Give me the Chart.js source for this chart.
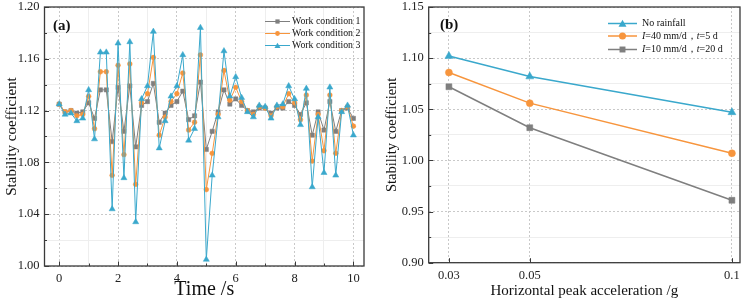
<!DOCTYPE html>
<html>
<head>
<meta charset="utf-8">
<script src="https://cdn.jsdelivr.net/npm/chart.js@4.4.0/dist/chart.umd.min.js"></script>
<style>
  body { margin: 0; background: #fff; }
  .panel { position: absolute; top: 0; width: 377px; height: 300px; }
</style>
</head>
<body>
<div class="panel" style="left:0"><canvas id="chartA" width="377" height="300"></canvas></div>
<div class="panel" style="left:377px"><canvas id="chartB" width="377" height="300"></canvas></div>
<script>
// ---------------- data (a) ----------------
const time = [0, 0.2, 0.4, 0.6, 0.8, 1, 1.2, 1.4, 1.6, 1.8, 2, 2.2, 2.4, 2.6, 2.8, 3, 3.2, 3.4, 3.6, 3.8,
  4, 4.2, 4.4, 4.6, 4.8, 5, 5.2, 5.4, 5.6, 5.8, 6, 6.2, 6.4, 6.6, 6.8, 7, 7.2, 7.4, 7.6, 7.8,
  8, 8.2, 8.4, 8.6, 8.8, 9, 9.2, 9.4, 9.6, 9.8, 10];
const wc1 = [1.125, 1.119, 1.120, 1.118, 1.119, 1.126, 1.114, 1.136, 1.136, 1.096, 1.138, 1.104, 1.139, 1.092, 1.124, 1.127, 1.141, 1.111, 1.118, 1.124,
  1.127, 1.135, 1.113, 1.116, 1.142, 1.090, 1.104, 1.119, 1.136, 1.125, 1.129, 1.124, 1.120, 1.119, 1.122, 1.122, 1.118, 1.122, 1.122, 1.127,
  1.124, 1.117, 1.126, 1.101, 1.119, 1.105, 1.127, 1.104, 1.120, 1.122, 1.114];
const wc2 = [1.125, 1.119, 1.120, 1.116, 1.117, 1.131, 1.106, 1.150, 1.150, 1.070, 1.155, 1.086, 1.156, 1.063, 1.126, 1.133, 1.161, 1.101, 1.115, 1.127,
  1.133, 1.149, 1.105, 1.111, 1.163, 1.059, 1.087, 1.117, 1.151, 1.128, 1.138, 1.127, 1.120, 1.117, 1.123, 1.122, 1.116, 1.123, 1.123, 1.133,
  1.126, 1.113, 1.132, 1.081, 1.117, 1.089, 1.132, 1.087, 1.120, 1.123, 1.108];
const wc3 = [1.125, 1.117, 1.118, 1.112, 1.114, 1.136, 1.098, 1.165, 1.165, 1.044, 1.172, 1.068, 1.173, 1.034, 1.129, 1.139, 1.181, 1.091, 1.112, 1.131,
  1.139, 1.163, 1.097, 1.106, 1.184, 1.005, 1.070, 1.115, 1.166, 1.131, 1.146, 1.130, 1.119, 1.115, 1.124, 1.123, 1.114, 1.124, 1.125, 1.139,
  1.129, 1.109, 1.137, 1.061, 1.115, 1.072, 1.138, 1.070, 1.119, 1.124, 1.101];
const timeTicks = [0, 2, 4, 6, 8, 10];
const stabTicksA = [1.00, 1.04, 1.08, 1.12, 1.16, 1.20];
const namesA = ['Work condition 1', 'Work condition 2', 'Work condition 3'];

// ---------------- data (b) ----------------
const accel = [0.03, 0.05, 0.1];
const noRain = [1.102, 1.082, 1.047];
const rain40 = [1.086, 1.056, 1.007];
const rain10 = [1.072, 1.032, 0.961];
const accelTicks = [0.03, 0.05, 0.1];
const stabTicksB = [0.90, 0.95, 1.00, 1.05, 1.10, 1.15];
const namesB = ['No rainfall', 'I=40 mm/d，t=5 d', 'I=10 mm/d，t=20 d'];

const GRAY = '#7f7f7f', ORANGE = '#f7953d', CYAN = '#3aa8cc';
const SERIF = "'Liberation Serif', 'Times New Roman', serif";

// ticks with a minor tick between each major one
function makeTicks(majors, minors) {
  const out = [];
  for (let i = 0; i < majors.length; i++) {
    out.push({ value: majors[i], big: true });
    if (minors && i < majors.length - 1) out.push({ value: (majors[i] + majors[i + 1]) / 2, big: false });
  }
  return out;
}

function pts(xs, ys) { return xs.map((x, i) => ({ x: x, y: ys[i] })); }

function drawMarker(ctx, style, r, x, y) {
  ctx.beginPath();
  if (style === 'rect') {
    const s = r * Math.SQRT1_2;
    ctx.rect(x - s, y - s, 2 * s, 2 * s);
  } else if (style === 'triangle') {
    for (let k = 0; k < 3; k++) {
      const a = k * 2 * Math.PI / 3;
      const px = x + Math.sin(a) * r, py = y - Math.cos(a) * r + r * 0.2;
      if (k === 0) ctx.moveTo(px, py); else ctx.lineTo(px, py);
    }
    ctx.closePath();
  } else {
    ctx.arc(x, y, r, 0, Math.PI * 2);
  }
  ctx.fill();
}

// frame around plot + inward tick marks + panel letter
const framePlugin = {
  id: 'frame',
  afterDraw(chart, args, o) {
    const { ctx, chartArea: a, scales } = chart;
    ctx.save();
    ctx.strokeStyle = '#3a3a3a';
    ctx.lineWidth = 1.3;
    ctx.strokeRect(a.left, a.top, a.right - a.left, a.bottom - a.top);
    ctx.lineWidth = 1;
    ctx.beginPath();
    scales.x.ticks.forEach(t => {
      const px = Math.round(scales.x.getPixelForValue(t.value)) + 0.5;
      ctx.moveTo(px, a.bottom);
      ctx.lineTo(px, a.bottom - (t.big ? 4.5 : 2.5));
    });
    scales.y.ticks.forEach(t => {
      const py = Math.round(scales.y.getPixelForValue(t.value)) + 0.5;
      ctx.moveTo(a.left, py);
      ctx.lineTo(a.left + (t.big ? 4.5 : 2.5), py);
    });
    ctx.stroke();
    ctx.fillStyle = '#111';
    ctx.font = 'bold 15px ' + SERIF;
    ctx.textBaseline = 'middle';
    ctx.fillText(o.letter, o.lx, o.ly);
    ctx.restore();
  }
};

// legend with line + marker, italics for I and t
const keyPlugin = {
  id: 'lineKey',
  afterDraw(chart, args, o) {
    const ctx = chart.ctx;
    ctx.save();
    ctx.textBaseline = 'middle';
    chart.data.datasets.forEach((ds, i) => {
      const y = o.rows[i];
      ctx.strokeStyle = ds.borderColor;
      ctx.lineWidth = ds.borderWidth;
      ctx.beginPath();
      ctx.moveTo(o.x0, y);
      ctx.lineTo(o.x1, y);
      ctx.stroke();
      ctx.fillStyle = ds.pointBackgroundColor;
      drawMarker(ctx, ds.pointStyle, ds.pointRadius, (o.x0 + o.x1) / 2, y);
      ctx.fillStyle = '#111';
      let x = o.tx;
      ds.label.split(/([It](?==))/).forEach(part => {
        if (!part) return;
        const it = /^[It]$/.test(part);
        ctx.font = (it ? 'italic ' : '') + o.size + 'px ' + SERIF;
        ctx.fillText(part, x, y);
        x += ctx.measureText(part).width;
      });
    });
    ctx.restore();
  }
};

function axis(opts) {
  return {
    type: 'linear',
    min: opts.min,
    max: opts.max,
    afterBuildTicks: s => { s.ticks = makeTicks(opts.majors, opts.minor); },
    afterFit: s => {
      if (opts.w) s.width = opts.w;
      if (opts.h) s.height = opts.h;
      s.paddingTop = 0; s.paddingBottom = 0; s.paddingLeft = 0; s.paddingRight = 0;
    },
    ticks: {
      autoSkip: false, maxRotation: 0, padding: opts.pad, color: '#222',
      font: { family: SERIF, size: 12.5 },
      callback: (v, i, ts) => ts[i].big ? opts.fmt(v) : ''
    },
    grid: {
      drawTicks: false, lineWidth: 1,
      color: c => (c.tick && c.tick.big) ? '#c9c9c9' : '#eeeeee'
    },
    border: { display: false, dash: c => (c.tick && c.tick.big) ? [2, 2] : [] },
    title: {
      display: true, text: opts.title, color: '#111',
      font: { family: SERIF, size: opts.tsize, lineHeight: opts.lh },
      padding: opts.tpad
    }
  };
}

function series(label, xs, ys, color, style, r, bw, order) {
  return {
    label: label, data: pts(xs, ys), borderColor: color, backgroundColor: color,
    pointBackgroundColor: color, pointBorderColor: color, pointBorderWidth: 0.5,
    pointStyle: style, pointRadius: r, borderWidth: bw, tension: 0, order: order
  };
}

new Chart(document.getElementById('chartA'), {
  type: 'line',
  data: {
    datasets: [
      series(namesA[0], time, wc1, GRAY, 'rect', 3, 1, 3),
      series(namesA[1], time, wc2, ORANGE, 'circle', 2.4, 1, 2),
      series(namesA[2], time, wc3, CYAN, 'triangle', 3.5, 1, 1)
    ]
  },
  options: {
    responsive: false, animation: false,
    layout: { padding: { left: 0, top: 7, right: 13, bottom: 0 } },
    plugins: {
      legend: { display: false }, tooltip: { enabled: false },
      frame: { letter: '(a)', lx: 53, ly: 26 },
      lineKey: { x0: 265, x1: 290, tx: 292, rows: [21.5, 33.5, 45.5], size: 9.8 }
    },
    scales: {
      x: axis({ min: -0.5, max: 10.36, majors: timeTicks, minor: true, pad: 5, h: 34,
        fmt: v => String(v), title: 'Time /s', tsize: 20, lh: 1, tpad: { top: 0, bottom: 0 } }),
      y: axis({ min: 1.0, max: 1.2, majors: stabTicksA, minor: true, pad: 5, w: 44.5,
        fmt: v => v.toFixed(2), title: 'Stability coefficient', tsize: 15, lh: 1.2, tpad: { top: 3, bottom: 0 } })
    }
  },
  plugins: [framePlugin, keyPlugin]
});

new Chart(document.getElementById('chartB'), {
  type: 'line',
  data: {
    datasets: [
      series(namesB[0], accel, noRain, CYAN, 'triangle', 4.6, 1.5, 1),
      series(namesB[1], accel, rain40, ORANGE, 'circle', 3.5, 1.5, 2),
      series(namesB[2], accel, rain10, GRAY, 'rect', 4.2, 1.5, 3)
    ]
  },
  options: {
    responsive: false, animation: false,
    layout: { padding: { left: 0, top: 7, right: 14, bottom: 0 } },
    plugins: {
      legend: { display: false }, tooltip: { enabled: false },
      frame: { letter: '(b)', lx: 63, ly: 25 },
      lineKey: { x0: 231, x1: 260, tx: 265, rows: [23.5, 36, 49.5], size: 10 }
    },
    scales: {
      x: axis({ min: 0.025, max: 0.102, majors: accelTicks, minor: false, pad: 6, h: 37.3,
        fmt: v => String(v), title: 'Horizontal peak acceleration /g', tsize: 15, lh: 1.2, tpad: { top: 0, bottom: 0 } }),
      y: axis({ min: 0.9, max: 1.15, majors: stabTicksB, minor: true, pad: 5, w: 51.7,
        fmt: v => v.toFixed(2), title: 'Stability coefficient', tsize: 14.5, lh: 1.2, tpad: { top: 6, bottom: 0 } })
    }
  },
  plugins: [framePlugin, keyPlugin]
});
</script>
</body>
</html>
